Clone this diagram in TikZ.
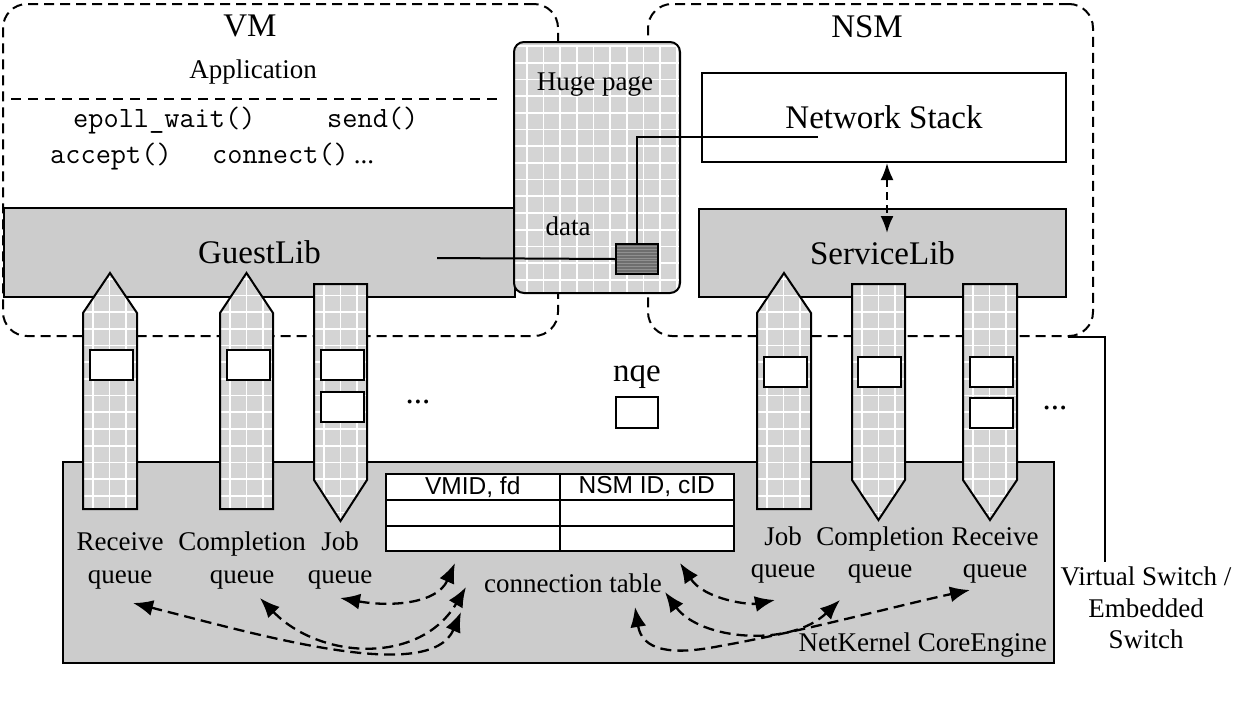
\documentclass[tikz,border=0pt]{standalone}
\usepackage{fontspec}
\setmainfont{Liberation Serif}
\newfontfamily\tabfont{Liberation Sans}
\usetikzlibrary{arrows.meta,calc}
\definecolor{libgray}{HTML}{CCCCCC}
\definecolor{gridgray}{HTML}{D4D4D4}
\definecolor{datagray}{HTML}{6E6E6E}
\definecolor{datastripe}{HTML}{909090}
\newcommand\bigfs{\fontsize{33}{38}\selectfont}
\newcommand\medfs{\fontsize{27}{31}\selectfont}
\newcommand\monofs{\ttfamily\fontsize{29.5}{33}\selectfont}
\newcommand\tabfs{\tabfont\fontsize{24.5}{28}\selectfont}
% grid filled shape: #1 path, #2 #3 grid origin, #4 #5 grid end
\newcommand\gridpoly[5]{%
  \fill[gridgray] #1;
  \begin{scope}
    \clip #1;
    \foreach \k in {0,...,14} \draw[white,line width=1.7pt] (#2+\k*16.7,#3) -- (#2+\k*16.7,#5);
    \foreach \k in {0,...,16} \draw[white,line width=1.7pt] (#2,#3+\k*16.7) -- (#4,#3+\k*16.7);
  \end{scope}
  \draw[black,line width=2pt,line join=miter] #1;}
\begin{document}
\begin{tikzpicture}[x=1pt,y=-1pt,
  dashbox/.style={draw=black,line width=2pt,dash pattern=on 10pt off 6pt,rounded corners=24pt,inner sep=0pt,anchor=north west},
  libbox/.style={draw=black,line width=2pt,fill=libgray,inner sep=0pt,anchor=north west,font=\bigfs},
  whitebox/.style={draw=black,line width=2pt,fill=white,inner sep=0pt,anchor=north west},
  elem/.style={whitebox,minimum width=43pt,minimum height=30pt},
  cell/.style={draw=black,line width=1.5pt,fill=white,inner sep=0pt,anchor=north west,minimum width=174pt,minimum height=26pt,font=\tabfs},
  lbl/.style={anchor=base,inner sep=0pt,font=\medfs},
  biglbl/.style={anchor=base,inner sep=0pt,font=\bigfs},
  code/.style={anchor=base west,inner sep=0pt,font=\monofs},
  cdash/.style={line width=2.3pt,dash pattern=on 11pt off 6pt,{Latex[length=20pt,width=16pt]}-{Latex[length=20pt,width=16pt]}},
  solidline/.style={draw=black,line width=2pt}
]
\useasboundingbox (0,0) rectangle (1257,713);
\fill[white] (0,0) rectangle (1257,713);

% VM and NSM dashed containers
\node[dashbox,minimum width=555pt,minimum height=332pt] (vm) at (2,3) {};
\node[dashbox,minimum width=445pt,minimum height=332pt] (nsm) at (647,3) {};
\node[biglbl] (vmlbl) at (250,36) {VM};
\node[biglbl] (nsmlbl) at (867,37) {NSM};

% application area
\node[lbl] (app) at (253,78) {Application};
\coordinate (appl) at (11,99);
\coordinate (appr) at (502,99);
\draw[line width=2pt,dash pattern=on 10pt off 7pt] (appl) -- (appr);
\node[code] (c1) at (73,127) {epoll\_wait()};
\node[code] (c2) at (327,127) {send()};
\node[code] (c3) at (50,163) {accept()};
\node[code] (c4) at (212,163) {connect()\,\rmfamily\fontsize{27}{31}\selectfont ...};

% libraries
\node[libbox,minimum width=511pt,minimum height=89pt] (guestlib) at (3,207) {GuestLib};
\node[libbox,minimum width=367pt,minimum height=88pt] (servicelib) at (698,208) {ServiceLib};
\node[whitebox,minimum width=364pt,minimum height=89pt,font=\bigfs] (netstack) at (701,72) {Network Stack};

% core engine
\node[libbox,minimum width=991pt,minimum height=201pt] (core) at (62,461) {};

% queues
\gridpoly{(83,509) -- (83,313) -- (110,273) -- (137,313) -- (137,509) -- cycle}{76}{262}{140}{530}
\gridpoly{(220,509) -- (220,313) -- (246.5,273) -- (273,313) -- (273,509) -- cycle}{213}{262}{280}{530}
\gridpoly{(314,284) -- (367,284) -- (367,480) -- (340.5,521) -- (314,480) -- cycle}{307}{262}{370}{530}
\gridpoly{(757,509) -- (757,313) -- (784,273) -- (811,313) -- (811,509) -- cycle}{750}{262}{815}{530}
\gridpoly{(852,284) -- (905,284) -- (905,480) -- (878.5,520) -- (852,480) -- cycle}{845}{262}{910}{530}
\gridpoly{(963,284) -- (1017,284) -- (1017,480) -- (990,520) -- (963,480) -- cycle}{956}{262}{1020}{530}
\node[inner sep=0pt,minimum width=54pt,minimum height=236pt,anchor=north west] (lrq) at (83,273) {};
\node[inner sep=0pt,minimum width=53pt,minimum height=236pt,anchor=north west] (lcq) at (220,273) {};
\node[inner sep=0pt,minimum width=53pt,minimum height=237pt,anchor=north west] (ljq) at (314,284) {};
\node[inner sep=0pt,minimum width=54pt,minimum height=236pt,anchor=north west] (rjq) at (757,273) {};
\node[inner sep=0pt,minimum width=53pt,minimum height=236pt,anchor=north west] (rcq) at (852,284) {};
\node[inner sep=0pt,minimum width=54pt,minimum height=236pt,anchor=north west] (rrq) at (963,284) {};

% queue elements
\node[elem] (e1) at (89,349) {};
\node[elem] (e2) at (226,349) {};
\node[elem] (e3) at (320,349) {};
\node[elem] (e4) at (320,391) {};
\node[elem] (e5) at (763,356) {};
\node[elem] (e6) at (857,356) {};
\node[elem] (e7) at (969,356) {};
\node[elem] (e8) at (969,397) {};
\node[elem,minimum width=42pt,minimum height=31pt] (nqebox) at (615,396) {};
\node[biglbl] (nqe) at (637,381) {nqe};
\node[biglbl] (dotsl) at (418,403) {...};
\node[biglbl] (dotsr) at (1055,409) {...};

% huge page
\gridpoly{[rounded corners=10pt] (514,42) rectangle (680,293)}{510}{46}{685}{300}
\node[inner sep=0pt,minimum width=166pt,minimum height=251pt,anchor=north west] (hp) at (514,42) {};
\node[lbl] (hplbl) at (595,90) {Huge page};
\node[lbl] (datalbl) at (568,235) {data};
\node[draw=black,line width=2pt,fill=datagray,inner sep=0pt,anchor=north west,minimum width=42pt,minimum height=30pt,
  path picture={\foreach \k in {1,...,10} \draw[datastripe,line width=0.8pt] ($(path picture bounding box.north west)+(0,\k*2.8)$) -- ++(42,0);}] (dbox) at (615,243) {};
\coordinate (glend) at (437,258);
\coordinate (nsend) at (818,137);
\draw[solidline] (glend) -- (dbox.west);
\draw[solidline] (dbox.north) |- (nsend);

% network stack <-> servicelib
\coordinate (nsarr) at (887,163);
\coordinate (slarr) at (887,233);
\draw[line width=2pt,dash pattern=on 8pt off 5pt,{Latex[length=17pt,width=13pt]}-{Latex[length=17pt,width=13pt]}] (nsarr) -- (slarr);

% connection table
\node[cell] (t11) at (385,473) {VMID, fd};
\node[cell] (t12) at (559,473) {NSM ID, cID};
\node[cell] (t21) at (385,499) {};
\node[cell] (t22) at (559,499) {};
\node[cell,minimum height=25pt] (t31) at (385,525) {};
\node[cell,minimum height=25pt] (t32) at (559,525) {};
\node[lbl] (ctlbl) at (573,592) {connection table};
\node[lbl,anchor=base east] (celbl) at (1047,651) {NetKernel CoreEngine};

% queue labels
\node[lbl] (l1a) at (120,550) {Receive};
\node[lbl] (l1b) at (120,583) {queue};
\node[lbl] (l2a) at (242,550) {Completion};
\node[lbl] (l2b) at (242,583) {queue};
\node[lbl] (l3a) at (340,550) {Job};
\node[lbl] (l3b) at (340,583) {queue};
\node[lbl] (r1a) at (783,545) {Job};
\node[lbl] (r1b) at (783,577) {queue};
\node[lbl] (r2a) at (880,545) {Completion};
\node[lbl] (r2b) at (880,577) {queue};
\node[lbl] (r3a) at (995,545) {Receive};
\node[lbl] (r3b) at (995,577) {queue};

% dashed double arrows
\coordinate (ljqa) at (340,598);
\coordinate (tba) at (455,563);
\coordinate (lcqa) at (260,598);
\coordinate (tbb) at (466,587);
\coordinate (lrqa) at (133,603);
\coordinate (tbc) at (461,612);
\coordinate (tbd) at (680,563);
\coordinate (rjqa) at (775,600);
\coordinate (tbe) at (665,592);
\coordinate (rcqa) at (840,600);
\coordinate (tbf) at (635,607);
\coordinate (rrqa) at (970,590);
\draw[cdash] (ljqa) .. controls (390,607) and (437,604) .. (tba);
\draw[cdash] (lcqa) .. controls (320,660) and (420,665) .. (tbb);
\draw[cdash] (lrqa) .. controls (260,635) and (430,685) .. (tbc);
\draw[cdash] (tbd) .. controls (705,600) and (750,605) .. (rjqa);
\draw[cdash] (tbe) .. controls (700,640) and (790,648) .. (rcqa);
\draw[cdash] (tbf) .. controls (642,650) and (670,656) .. (720,646) .. controls (800,632) and (900,605) .. (rrqa);

% virtual switch
\coordinate (vs1) at (1068,337);
\coordinate (vs2) at (1105,562);
\draw[solidline] (vs1) -| (vs2);
\node[lbl] (vsa) at (1146,585) {Virtual Switch /};
\node[lbl] (vsb) at (1146,617) {Embedded};
\node[lbl] (vsc) at (1146,648) {Switch};
\end{tikzpicture}
\end{document}
